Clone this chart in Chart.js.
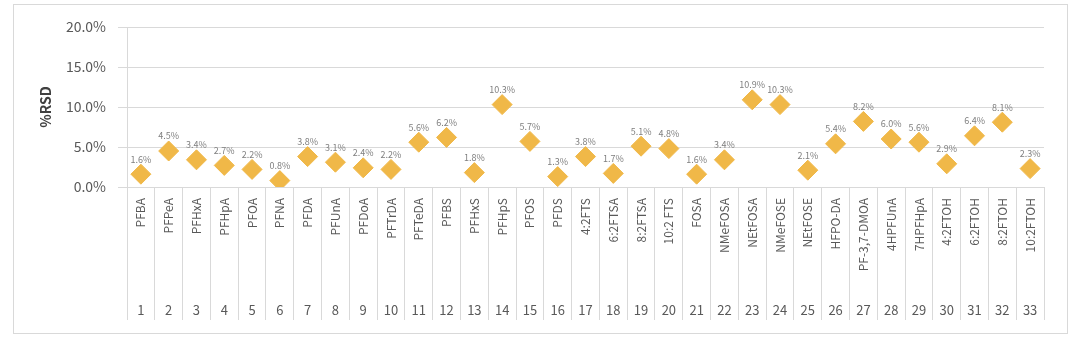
<!DOCTYPE html>
<html>
<head>
<meta charset="utf-8">
<script src="https://cdn.jsdelivr.net/npm/chart.js@4"></script>
<style>
  body { margin: 0; background: #fff; }
  .box { position: absolute; left: 13px; top: 4px; width: 1053px; height: 328px; border: 1px solid #d9d9d9; }
  canvas { display: block; }
</style>
</head>
<body>
<div class="box"><canvas id="rsd" width="1053" height="328"></canvas></div>
<script>
const compounds = ['PFBA','PFPeA','PFHxA','PFHpA','PFOA','PFNA','PFDA','PFUnA','PFDoA','PFTrDA',
  'PFTeDA','PFBS','PFHxS','PFHpS','PFOS','PFDS','4:2FTS','6:2FTSA','8:2FTSA','10:2 FTS',
  'FOSA','NMeFOSA','NEtFOSA','NMeFOSE','NEtFOSE','HFPO-DA','PF-3,7-DMOA','4HPFUnA','7HPFHpA','4:2FTOH',
  '6:2FTOH','8:2FTOH','10:2FTOH']
const numbers = ['1','2','3','4','5','6','7','8','9','10','11','12','13','14','15','16','17',
  '18','19','20','21','22','23','24','25','26','27','28','29','30','31','32','33']
const rsd = [1.6, 4.5, 3.4, 2.7, 2.2, 0.8, 3.8, 3.1, 2.4, 2.2,
  5.6, 6.2, 1.8, 10.3, 5.7, 1.3, 3.8, 1.7, 5.1, 4.8,
  1.6, 3.4, 10.9, 10.3, 2.1, 5.4, 8.2, 6.0, 5.6, 2.9,
  6.4, 8.1, 2.3]
const yTicks = [0, 5, 10, 15, 20]

const font = "'Noto Sans CJK KR', 'Open Sans', sans-serif"
const gridColor = '#d9d9d9'

// value labels over each diamond
const valueLabels = {
    id: 'valueLabels',
    afterDatasetsDraw(chart) {
        const ctx = chart.ctx
        const meta = chart.getDatasetMeta(0)
        ctx.save()
        ctx.font = `9px ${font}`
        ctx.fillStyle = '#7f7f7f'
        ctx.textAlign = 'center'
        ctx.textBaseline = 'middle'
        meta.data.forEach((pt, i) => {
            ctx.fillText(rsd[i].toFixed(1) + '%', pt.x, pt.y - 15)
        })
        ctx.restore()
    }
}

new Chart(document.getElementById('rsd'), {
    type: 'line',
    data: {
        labels: compounds,
        datasets: [{
            label: '%RSD',
            data: rsd,
            showLine: false,
            pointStyle: 'rectRot',
            pointRadius: 10,
            pointHoverRadius: 10,
            pointBackgroundColor: '#f0b848',
            pointBorderColor: '#f0b848',
            pointBorderWidth: 1
        }]
    },
    options: {
        responsive: false,
        animation: false,
        events: [],
        layout: { padding: { top: 22, right: 23, bottom: 0, left: 0 } },
        plugins: { legend: { display: false }, tooltip: { enabled: false } },
        scales: {
            y: {
                min: 0,
                max: 20,
                afterBuildTicks: (s) => { s.ticks = yTicks.map(v => ({ value: v })) },
                afterFit: (s) => { s.width = 113 },
                grid: { color: gridColor, tickLength: 9 },
                border: { color: gridColor },
                ticks: {
                    color: '#595959',
                    padding: 12,
                    font: { family: font, size: 14 },
                    callback: (v) => v.toFixed(1) + '%'
                },
                title: {
                    display: true,
                    text: '%RSD',
                    color: '#404040',
                    padding: { top: 23, bottom: 0 },
                    font: { family: font, size: 14, weight: 'bold' }
                }
            },
            x: {
                offset: true,
                afterFit: (s) => { s.height = 105 },
                grid: { offset: true, drawOnChartArea: false, color: gridColor, tickLength: 133 },
                border: { color: gridColor },
                ticks: {
                    color: '#595959',
                    padding: -122,
                    minRotation: 90,
                    maxRotation: 90,
                    autoSkip: false,
                    font: { family: font, size: 12 }
                }
            },
            x2: {
                type: 'category',
                position: 'bottom',
                labels: numbers,
                offset: true,
                afterFit: (s) => { s.height = 41 },
                grid: { display: false },
                border: { display: false },
                ticks: {
                    color: '#595959',
                    padding: 2,
                    maxRotation: 0,
                    autoSkip: false,
                    font: { family: font, size: 13 }
                }
            }
        }
    },
    plugins: [valueLabels]
})
</script>
</body>
</html>
